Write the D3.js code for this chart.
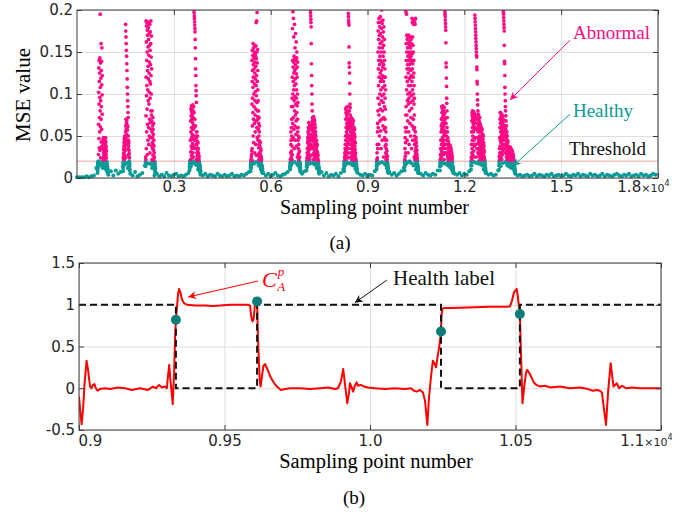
<!DOCTYPE html>
<html>
<head>
<meta charset="utf-8">
<script src="https://cdn.jsdelivr.net/npm/d3@7"></script>
<style>
  html, body { margin: 0; padding: 0; background: #ffffff; }
  svg { display: block; }
</style>
</head>
<body>
<svg id="fig" width="698" height="516"></svg>
<script>
// ---------- (a) MSE of each sampling point (values in units of 1e-3) ----------
const mseThreshold = 20;

// background MSE, one value every baseStep samples
const baseStep = 75;
const baseMse = [
  1,1,1,1,2,1,2,3,
  12,16,18,15,10,
  4,8,3,9,5,7,
  14,18,12,
  5,3,7,2,4,6,
  15,18,17,12,
  3,5,2,4,2,6,3,2,4,5,2,3,2,4,6,
  14,18,16,10,
  4,3,5,2,4,3,2,5,3,2,4,2,3,5,2,3,2,4,3,5,7,
  12,17,19,15,10,
  6,3,5,2,4,6,3,2,4,5,7,
  14,18,19,16,11,
  5,8,
  13,17,18,16,12,
  5,7,3,6,2,4,3,5,2,6,
  10,16,18,17,15,11,
  6,4,3,5,2,4,3,8,
  15,18,19,17,12,
  7,4,6,3,5,8,
  12,17,19,18,15,10,
  6,5,3,6,4,3,5,4,9,
  14,18,17,16,14,9,
  5,4,6,3,5,4,8,
  15,19,18,17,16,10,
  6,4,5,3,4,9,
  14,18,19,17,16,12,
  5,3,4,2,3,4,2,3,5,2,
  4,3,2,4,3,5,2,3,4,2,
  3,5,3,2,4,3,5,2,4,3,
  2,5,3,4,2,3,5,2,4,3,
  2,4,5,3,2,4,3,5,2,3,
  4,2,5,3,4,2,3,5,4
];

// fault bursts, one value every burstStep samples from each start sample
const burstStep = 3;
const burstStarts = [635, 1425, 2122, 3485, 5375, 6599, 7110, 8272, 9279, 10146, 11246, 12206, 13074];

const burst01 = [6,9,12,15,18,13,17,19,16,20,
  28,64,102,17,131,47,88,140,36,115,72,19,125,55,96,143,33,80,195,108,61,137,24,92,18,119,70,160,43,128,85,16,139,58,111,155,38,99,76,122,
  14,19,12,17,15,
  35,18,46,24,41,14,30,48,21,38,16,44,27,33,19,47,25,40,13,36,29,45,17,31,42,22,18,39,26,48,15,34,43,20,28,37,12,24,32,19,
  17,13,19,11,15,9,14,8,12,7,10,6,9,5,7];
const burst02 = [8,12,18,24,15,29,20,34,17,38,26,
  42,22,47,31,19,44,36,50,27,41,16,46,33,39,24,
  55,183,62,175,48,168,70,160,58,152,66,145,52,136,69,128,44,118,63,108,
  100,57,92,40,85,61,78,35,72,50,
  45,28,38,18,42,25,33,15,29,20,14,24,11,17,9];
const burst03 = [14,19,25,16,22,
  74,187,120,35,162,98,181,55,140,110,185,82,150,28,176,128,64,170,105,186,45,156,133,92,179,118,60,165,40,146,184,88,125,172,50,138,102,158,70,183,115,30,
  95,152,66,174,112,135,48,160,80,187,122,58,144,100,169,75,130,38,
  68,22,55,16,80,42,19,62,35,48,18,72,27,58,14,40,52,21,33,65,17,45,26,38,15,30,20,24,13,18,
  16,12,19,9,14,8,11,6];
const burst04 = [9,14,18,12,19,16,20,13,17,19,
  45,22,68,31,82,55,19,74,38,86,60,27,79,48,17,70,35,84,52,24,76,41,66,18,87,58,30,72,46,80,25,63,37,85,50,20,
  200,78,197,60,193,190,45,186,182,70,178,174,35,165,155,62,142,130,50,122,110,40,104,98,55,90,
  48,22,40,16,55,30,18,44,26,36,15,50,21,32,19,28,42,17,24,35,14,30,20,27,13,22,18,25,12,19,15,11,17,9,13,
  10,14,8,12,7,9,6,8];
const burst05 = [8,12,16,19,14,18,22,15,20,25,17,28,19,32,21,
  88,140,35,115,152,62,128,95,20,146,78,108,160,50,135,120,70,155,42,100,143,85,130,18,150,65,112,138,30,125,158,92,75,148,55,118,103,145,40,133,82,157,68,110,185,98,142,27,122,187,60,150,90,197,137,48,115,80,153,73,128,105,
  70,45,92,28,58,18,80,36,65,22,50,40,72,15,55,30,62,25,44,19,
  38,21,30,15,42,24,18,35,12,27,20,33,16,25,11,19,14,22,10,15,
  12,8,14,9,11,7,10,6];
const burst06 = [10,14,18,12,22,16,19,30,15,40,
  55,24,45,19,60,32,85,27,50,70,22,38,95,46,28,
  120,178,65,140,100,198,85,132,48,115,190,72,138,105,168,58,125,92,145,35,110,80,183,128,62,142,97,155,45,118,135,75,172,88,130,52,112,140,68,162,95,124,38,105,143,78,150,60,120,86,132,25,100,70,138,55,90,
  45,18,60,28,35,15,50,22,40,19,30,16,48,24,20,14,32,17,25,12,
  14,18,10,16,9,12,8,7];
const burst07 = [9,13,17,20,14,24,18,30,16,35,22,42,19,48,27,
  55,30,45,20,60,38,25,52,66,33,18,47,58,28,40,62,22,50,35,57,44,26,63,37,48,
  200,52,197,193,40,189,185,62,180,160,35,136,58,122,110,45,100,88,67,80,
  60,72,38,66,50,28,70,55,44,68,22,62,48,73,35,58,65,30,53,70,42,61,25,56,68,33,47,64,19,52,40,60,27,45,55,20,38,50,24,42,
  35,18,30,45,22,28,15,38,25,32,17,40,20,26,14,30,19,23,12,27,16,21,13,18,10,
  14,9,12,8,11,7,9,6];
const burst08 = [8,12,16,20,14,18,25,17,30,22,19,35,24,40,28,
  50,82,25,70,45,78,33,60,20,84,55,40,75,28,65,80,38,52,72,18,62,85,30,48,77,42,68,24,58,35,
  196,192,70,188,185,60,182,156,50,137,132,80,125,45,113,100,65,88,40,84,75,30,62,55,46,
  68,25,55,40,72,18,60,35,48,66,22,52,30,62,44,20,58,38,70,27,50,64,33,45,19,56,42,68,28,36,54,23,47,60,31,40,17,52,26,44,58,21,38,49,16,34,28,42,20,30,
  24,15,22,18,12,20,14,17,10,15,12,9,11,8,7];
const burst09 = [10,14,19,15,22,18,30,16,40,24,55,20,65,35,80,
  150,95,175,60,130,185,110,40,165,140,75,190,120,155,88,170,50,135,180,100,145,68,160,125,192,82,115,172,56,140,105,186,35,150,128,92,178,118,200,70,162,138,98,184,45,122,155,80,168,132,108,188,62,145,90,174,115,25,158,135,72,180,100,150,120,58,165,85,140,48,110,130,70,95,38,120,82,60,105,45,
  30,18,55,22,40,15,35,20,28,45,16,25,19,32,14,22,17,26,12,18,
  15,10,13,8,12,7,9,6];
const burst10 = [9,13,18,22,15,35,19,48,26,60,20,42,75,30,55,
  198,120,85,160,140,60,195,105,150,170,75,130,45,165,115,92,155,135,68,168,100,145,30,125,160,88,140,110,55,170,95,150,130,40,162,118,80,148,135,20,158,102,65,142,120,168,90,155,50,128,110,145,72,165,138,98,150,35,122,160,83,140,115,190,62,148,130,185,105,168,45,136,92,158,187,120,70,150,100,183,140,58,125,88,110,25,75,95,60,40,
  50,186,22,40,183,32,18,55,28,190,45,15,36,24,48,19,30,42,16,26,38,14,22,33,18,28,12,24,16,20,
  15,11,14,9,12,8,10,6];
const burst11 = [9,14,18,22,16,28,20,35,15,45,25,55,19,62,32,
  70,40,85,25,58,78,35,65,20,82,48,72,30,60,86,42,55,18,75,38,68,50,80,28,62,45,73,22,57,84,35,66,40,52,77,30,
  198,195,70,192,188,55,184,180,176,40,161,65,137,132,30,119,50,109,95,89,45,80,60,35,72,
  28,55,18,40,25,48,15,35,22,30,19,44,16,26,20,
  38,19,32,24,40,15,28,36,18,22,34,13,26,39,17,30,21,37,14,25,33,18,29,12,35,20,27,16,31,14,24,19,28,11,22,17,25,13,19,10,
  14,10,12,8,11,7,9,6];
const burst12 = [10,15,20,25,18,40,22,55,30,68,20,75,35,78,45,
  60,80,28,72,50,76,20,65,78,40,70,55,79,32,62,74,45,68,25,77,58,38,73,48,66,
  194,75,190,186,60,182,178,40,174,170,166,70,162,158,25,154,150,146,58,144,132,35,129,115,65,112,100,48,93,87,72,30,80,55,76,42,
  70,35,62,20,75,45,55,28,68,40,18,60,50,33,72,25,58,42,65,22,48,38,55,30,62,
  58,22,45,35,60,18,50,28,40,55,20,32,48,25,58,38,15,44,30,52,22,36,46,18,28,40,24,50,15,34,42,20,30,26,38,16,24,32,18,22,
  18,14,20,11,16,13,9,12,8,10,7,6];
const burst13 = [10,15,20,26,18,35,22,48,30,60,24,70,38,78,45,
  65,78,30,55,72,42,60,25,75,50,68,35,58,76,22,62,45,70,38,52,74,28,64,48,56,32,66,40,54,70,
  198,60,195,191,45,187,183,179,55,175,158,35,139,136,50,122,108,40,100,62,92,85,30,80,58,74,45,68,38,52,
  48,25,62,32,40,18,55,28,45,22,36,50,15,42,30,20,38,26,44,17,34,24,30,19,27,
  35,18,28,37,22,14,32,25,36,19,30,16,34,27,21,37,13,29,24,33,18,26,35,15,31,22,28,12,34,20,25,30,17,23,33,14,27,19,31,22,16,29,24,12,26,20,28,15,23,18,25,13,21,17,19,
  15,12,17,10,14,9,12,8,10,7,8,6];
const bursts = [burst01, burst02, burst03, burst04, burst05, burst06, burst07,
                burst08, burst09, burst10, burst11, burst12, burst13];

const aTicksX = [3000, 6000, 9000, 12000, 15000, 18000];
const aTickLabelsX = ["0.3", "0.6", "0.9", "1.2", "1.5", "1.8"];
const aTicksY = [0, 0.05, 0.1, 0.15, 0.2];
const aTickLabelsY = ["0", "0.05", "0.1", "0.15", "0.2"];

// ---------- (b) zoom on 0.9e4 .. 1.1e4 ----------
const caSample = [9000,9005,9009,9014,9019,9026,9031,9038,9043,9048,9053,9058,9064,9072,9089,9107,9134,9158,9182,9210,
  9237,9254,9265,9275,9285,9296,9302,9306,9310,9314,9320,9322,9327,9330,9333,9337,9340,9344,9349,9354,
  9361,9371,9399,9433,9460,9485,9519,9553,9581,9588,9591,9596,9600,9604,9608,9612,9615,9621,9624,9629,
  9634,9639,9646,9656,9667,9680,9694,9708,9725,9759,9794,9828,9856,9880,9890,9900,9908,9914,9922,9928,
  9931,9936,9942,9948,9954,9959,9969,9979,9993,10017,10052,10086,10120,10141,10151,10161,10172,10182,10189,10197,
  10203,10210,10216,10221,10227,10231,10238,10244,10246,10249,10254,10275,10309,10361,10412,10464,10481,10488,10495,10504,
  10508,10512,10515,10519,10524,10531,10536,10540,10548,10555,10563,10572,10584,10601,10619,10653,10687,10722,10749,10766,
  10780,10790,10797,10804,10811,10818,10827,10832,10837,10848,10856,10866,10880,10900,10928,10962,11000];
const caValue = [-0.10,-0.30,-0.43,-0.25,0.05,0.33,0.22,0.02,0.00,0.04,0.05,0.00,-0.03,-0.01,0.00,-0.01,0.01,0.00,-0.02,0.00,
  -0.02,0.02,0.00,0.04,0.01,0.02,0.00,0.15,0.28,0.10,-0.10,-0.19,0.20,0.60,0.82,0.98,1.12,1.19,1.14,1.06,
  1.02,1.00,0.99,0.99,0.985,0.99,1.00,1.00,1.00,0.99,0.88,0.80,0.82,0.98,1.03,1.04,0.60,0.10,0.02,0.15,
  0.27,0.29,0.24,0.15,0.08,0.02,-0.02,-0.01,0.00,0.00,-0.01,0.00,0.01,-0.01,0.00,0.08,0.23,0.05,-0.18,-0.05,
  0.06,0.02,-0.04,0.03,0.07,0.03,0.04,0.02,0.01,0.00,-0.01,0.00,-0.01,0.00,-0.03,-0.04,-0.02,-0.05,-0.15,-0.44,
  -0.10,0.15,0.33,0.30,0.25,0.35,0.50,0.68,0.88,0.95,0.96,0.96,0.965,0.97,0.975,0.975,0.98,1.05,1.15,1.19,
  1.10,0.97,0.89,0.40,-0.18,0.05,0.18,0.22,0.18,0.13,0.07,0.04,0.02,0.03,0.01,0.02,0.00,0.01,-0.01,-0.03,
  -0.02,-0.03,-0.05,-0.25,-0.44,-0.05,0.30,0.15,0.02,0.06,0.00,0.03,0.00,0.01,0.00,0.00,0.00];

const healthSample = [9000, 9333, 9612, 10244, 10515, 11000];
const healthValue  = [1, 0, 1, 0, 1, 1];

const markSample = [9333, 9612, 10244, 10515];
const markValue  = [0.82, 1.04, 0.68, 0.89];

const bTicksX = [9000, 9500, 10000, 10500, 11000];
const bTickLabelsX = ["0.9", "0.95", "1.0", "1.05", "1.1"];
const bTicksY = [-0.5, 0, 0.5, 1, 1.5];
const bTickLabelsY = ["-0.5", "0", "0.5", "1", "1.5"];

// ---------- styling ----------
const pink = "#ff0a85";
const teal = "#0b9b96";
const dotTeal = "#0d7d7a";
const gridColor = "#dedede";
const axisColor = "#3c3c3c";
const tickFont = "'DejaVu Sans', sans-serif";
const serif = "'Liberation Serif', 'Times New Roman', serif";

const svg = d3.select("#fig");
const defs = svg.append("defs");

function arrowMarker(id, color) {
  defs.append("marker")
    .attr("id", id)
    .attr("viewBox", "0 0 10 10")
    .attr("refX", 10).attr("refY", 5)
    .attr("markerWidth", 10).attr("markerHeight", 8)
    .attr("markerUnits", "userSpaceOnUse")
    .attr("orient", "auto")
    .append("path")
    .attr("d", "M0,0 L10,5 L0,10 L3,5 Z")
    .attr("fill", color);
}
arrowMarker("head-pink", pink);
arrowMarker("head-teal", teal);
arrowMarker("head-red", "#ff0000");
arrowMarker("head-black", "#111111");

function styleAxis(g) {
  g.attr("font-size", 15).attr("font-family", tickFont);
  g.selectAll(".tick line").attr("stroke", axisColor);
  g.selectAll(".tick text").attr("fill", "#262626");
  g.select(".domain").remove();
}

function frame(g, box, xs, ys, xt, yt) {
  const w = box.right - box.left, h = box.bottom - box.top;
  // grid
  g.append("g").attr("transform", `translate(0,${box.bottom})`)
    .call(d3.axisBottom(xs).tickValues(xt).tickSize(-h).tickFormat(""))
    .call(s => { s.select(".domain").remove(); s.selectAll("line").attr("stroke", gridColor); });
  g.append("g").attr("transform", `translate(${box.left},0)`)
    .call(d3.axisLeft(ys).tickValues(yt).tickSize(-w).tickFormat(""))
    .call(s => { s.select(".domain").remove(); s.selectAll("line").attr("stroke", gridColor); });
}

function axes(g, box, xs, ys, xt, yt, xLabels, yLabels, pad) {
  g.append("rect")
    .attr("x", box.left).attr("y", box.top)
    .attr("width", box.right - box.left).attr("height", box.bottom - box.top)
    .attr("fill", "none").attr("stroke", axisColor).attr("stroke-width", 1);
  const xa = g.append("g").attr("transform", `translate(0,${box.bottom})`)
    .call(d3.axisBottom(xs).tickValues(xt).tickSize(-5).tickPadding(pad)
      .tickFormat((d, i) => xLabels[i]))
    .call(styleAxis);
  g.append("g").attr("transform", `translate(0,${box.top})`)
    .call(d3.axisTop(xs).tickValues(xt).tickSize(-5).tickFormat(""))
    .call(styleAxis);
  g.append("g").attr("transform", `translate(${box.left},0)`)
    .call(d3.axisLeft(ys).tickValues(yt).tickSize(-5).tickPadding(4)
      .tickFormat((d, i) => yLabels[i]))
    .call(styleAxis);
  g.append("g").attr("transform", `translate(${box.right},0)`)
    .call(d3.axisRight(ys).tickValues(yt).tickSize(-5).tickFormat(""))
    .call(styleAxis);
  // the last x label carries the x10^4 multiplier
  const last = xa.selectAll(".tick text").filter((d, i, n) => i === n.length - 1);
  last.attr("text-anchor", "end").attr("x", 11);
  last.append("tspan").attr("font-size", 11).text("\u00d710");
  last.append("tspan").attr("font-size", 8).attr("dy", -6).text("4");
  return xa;
}

// ================= panel (a) =================
const aBox = { left: 77, right: 658, top: 10, bottom: 178 };
const ax = d3.scaleLinear().domain([0, 18000]).range([aBox.left, aBox.right]);
const ay = d3.scaleLinear().domain([0, 0.2]).range([aBox.bottom, aBox.top]);

const gA = svg.append("g");
frame(gA, aBox, ax, ay, aTicksX, aTicksY);

defs.append("clipPath").attr("id", "clipA").append("rect")
  .attr("x", aBox.left - 3).attr("y", aBox.top)
  .attr("width", aBox.right - aBox.left + 6).attr("height", aBox.bottom - aBox.top + 4);

// threshold
gA.append("line")
  .attr("x1", aBox.left).attr("x2", aBox.right)
  .attr("y1", ay(mseThreshold / 1000)).attr("y2", ay(mseThreshold / 1000))
  .attr("stroke", "#f0a4a4").attr("stroke-width", 1);

const msePoints = [];
baseMse.forEach((v, i) => msePoints.push({ s: i * baseStep, v }));
bursts.forEach((b, k) => b.forEach((v, i) => msePoints.push({ s: burstStarts[k] + i * burstStep, v })));

const dotsA = gA.append("g").attr("clip-path", "url(#clipA)");
dotsA.selectAll("circle.h")
  .data(msePoints.filter(p => p.v <= mseThreshold))
  .join("circle").attr("class", "h")
  .attr("cx", p => ax(p.s)).attr("cy", p => ay(p.v / 1000))
  .attr("r", 2.0).attr("fill", teal);
dotsA.selectAll("circle.a")
  .data(msePoints.filter(p => p.v > mseThreshold))
  .join("circle").attr("class", "a")
  .attr("cx", p => ax(p.s)).attr("cy", p => ay(p.v / 1000))
  .attr("r", 1.85).attr("fill", pink);

axes(gA, aBox, ax, ay, aTicksX, aTicksY, aTickLabelsX, aTickLabelsY, 3);

gA.append("text")
  .attr("x", (aBox.left + aBox.right) / 2 + 7).attr("y", 213.5)
  .attr("text-anchor", "middle").attr("font-family", serif).attr("font-size", 20)
  .text("Sampling point number");
gA.append("text")
  .attr("transform", `translate(30,${(aBox.top + aBox.bottom) / 2 + 1}) rotate(-90)`)
  .attr("text-anchor", "middle").attr("font-family", serif).attr("font-size", 21)
  .text("MSE value");

// annotations (a)
gA.append("line")
  .attr("x1", ax(15273)).attr("y1", ay(0.164)).attr("x2", ax(13414)).attr("y2", ay(0.093))
  .attr("stroke", pink).attr("stroke-width", 1).attr("marker-end", "url(#head-pink)");
gA.append("line")
  .attr("x1", ax(15273)).attr("y1", ay(0.076)).attr("x2", ax(13507)).attr("y2", ay(0.0143))
  .attr("stroke", teal).attr("stroke-width", 1).attr("marker-end", "url(#head-teal)");
gA.append("text").attr("x", ax(15366)).attr("y", ay(0.1655))
  .attr("font-family", serif).attr("font-size", 19).attr("fill", pink).text("Abnormal");
gA.append("text").attr("x", ax(15366)).attr("y", ay(0.0726))
  .attr("font-family", serif).attr("font-size", 19).attr("fill", teal).text("Healthy");
gA.append("text").attr("x", ax(15242)).attr("y", ay(0.0274))
  .attr("font-family", serif).attr("font-size", 19).attr("fill", "#111").text("Threshold");

svg.append("text").attr("x", 340).attr("y", 249).attr("text-anchor", "middle")
  .attr("font-family", serif).attr("font-size", 19).text("(a)");

// ================= panel (b) =================
const bBox = { left: 79, right: 661, top: 263, bottom: 430 };
const bx = d3.scaleLinear().domain([9000, 11000]).range([bBox.left, bBox.right]);
const by = d3.scaleLinear().domain([-0.5, 1.5]).range([bBox.bottom, bBox.top]);

const gB = svg.append("g");
frame(gB, bBox, bx, by, bTicksX, bTicksY);

defs.append("clipPath").attr("id", "clipB").append("rect")
  .attr("x", bBox.left).attr("y", bBox.top)
  .attr("width", bBox.right - bBox.left).attr("height", bBox.bottom - bBox.top);

const caLine = d3.line().x((d, i) => bx(caSample[i])).y((d, i) => by(caValue[i]));
gB.append("path")
  .attr("clip-path", "url(#clipB)")
  .attr("d", caLine(caSample))
  .attr("fill", "none").attr("stroke", "#ff0000").attr("stroke-width", 2)
  .attr("stroke-linejoin", "round");

const healthLine = d3.line().curve(d3.curveStepAfter)
  .x((d, i) => bx(healthSample[i])).y((d, i) => by(healthValue[i]));
gB.append("path")
  .attr("d", healthLine(healthSample))
  .attr("fill", "none").attr("stroke", "#111").attr("stroke-width", 2)
  .attr("stroke-dasharray", "7,4");

gB.selectAll("circle.m")
  .data(markSample)
  .join("circle").attr("class", "m")
  .attr("cx", d => bx(d)).attr("cy", (d, i) => by(markValue[i]))
  .attr("r", 5).attr("fill", dotTeal);

const xaB = axes(gB, bBox, bx, by, bTicksX, bTicksY, bTickLabelsX, bTickLabelsY, 5);
xaB.selectAll(".tick text").filter((d, i) => i === 0).attr("text-anchor", "start").attr("x", -1);

gB.append("text")
  .attr("x", (bBox.left + bBox.right) / 2 + 6).attr("y", 468)
  .attr("text-anchor", "middle").attr("font-family", serif).attr("font-size", 20.5)
  .text("Sampling point number");

// annotations (b)
gB.append("line")
  .attr("x1", bx(9615)).attr("y1", by(1.284)).attr("x2", bx(9375)).attr("y2", by(1.093))
  .attr("stroke", "#ff0000").attr("stroke-width", 1).attr("marker-end", "url(#head-red)");
const caLabel = gB.append("text").attr("x", bx(9629)).attr("y", by(1.213))
  .attr("font-family", serif).attr("font-style", "italic").attr("font-size", 22)
  .attr("fill", "#ff0000");
caLabel.append("tspan").text("C");
caLabel.append("tspan").attr("font-size", 13).attr("dx", 1).attr("dy", -11).text("p");
caLabel.append("tspan").attr("font-size", 13).attr("dx", -7).attr("dy", 15).text("A");

gB.append("line")
  .attr("x1", bx(10058)).attr("y1", by(1.296)).attr("x2", bx(9948)).attr("y2", by(1.024))
  .attr("stroke", "#111").attr("stroke-width", 1).attr("marker-end", "url(#head-black)");
gB.append("text").attr("x", bx(10079)).attr("y", by(1.237))
  .attr("font-family", serif).attr("font-size", 21).attr("fill", "#111").text("Health label");

svg.append("text").attr("x", 354).attr("y", 504).attr("text-anchor", "middle")
  .attr("font-family", serif).attr("font-size", 19).text("(b)");
</script>
</body>
</html>
